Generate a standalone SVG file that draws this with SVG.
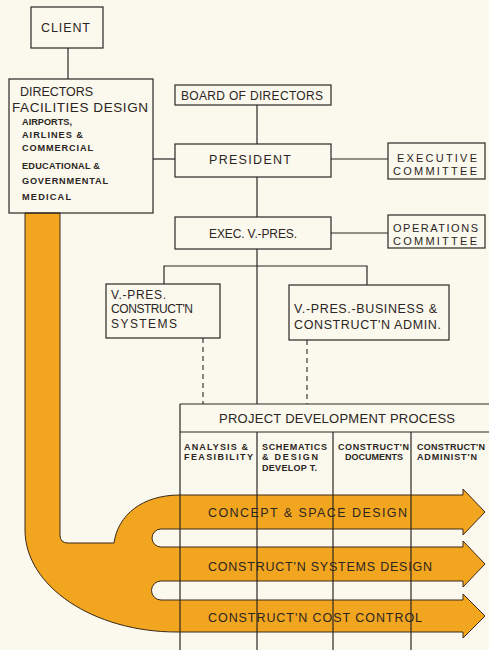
<svg xmlns="http://www.w3.org/2000/svg" width="489" height="650" viewBox="0 0 489 650">
<style>
.box{fill:none;stroke:#2b2623;stroke-width:1.2}
.ln{fill:none;stroke:#2b2623;stroke-width:1.2}
.dash{fill:none;stroke:#2b2623;stroke-width:1.1;stroke-dasharray:5 4}
.t{font-family:"Liberation Sans",Arial,sans-serif;font-size:12.5px;fill:#2b2623}
.c{font-family:"Liberation Sans",Arial,sans-serif;font-size:11px;fill:#2b2623}
.s{font-family:"Liberation Sans",Arial,sans-serif;font-size:9.2px;font-weight:bold;fill:#2b2623}
.h{font-family:"Liberation Sans",Arial,sans-serif;font-size:9px;font-weight:bold;fill:#2b2623}
.a{font-family:"Liberation Sans",Arial,sans-serif;font-size:12.5px;fill:#2b2623}
.flow{fill:#F2A51E;stroke:#3a2a1a;stroke-width:1}
</style>
<rect width="489" height="650" fill="#FBF8EE"/>

<g id="flow">
<path class="flow" d="M25 213 L25 530 C25 586 93 632 177 632 L463 632 L463 638 L485 616 L463 594 L463 600 L161 600 A9.5 9.5 0 0 1 161 581 L463 581 L463 587 L485 564 L463 541 L463 547 L161 547 A9 9 0 0 1 161 529 L463 529 L463 535 L485 512 L463 489 L463 495 L180 495 C142 495 118 515 114 543 L68 543 Q60 543 60 535 L60 213 Z"/>
<text class="a" x="208" y="517" textLength="199">CONCEPT &amp; SPACE DESIGN</text>
<text class="a" x="208" y="571" textLength="224">CONSTRUCT'N SYSTEMS DESIGN</text>
<text class="a" x="208" y="622" textLength="214">CONSTRUCT'N COST CONTROL</text>
</g>

<g id="connectors">
<line class="ln" x1="68" y1="48" x2="68" y2="79"/>
<line class="ln" x1="153" y1="159" x2="175" y2="159"/>
<line class="ln" x1="257" y1="105" x2="257" y2="144"/>
<line class="ln" x1="257" y1="177" x2="257" y2="217"/>
<line class="ln" x1="331" y1="159" x2="388" y2="159"/>
<line class="ln" x1="331" y1="233" x2="388" y2="233"/>
<line class="ln" x1="257" y1="249" x2="257" y2="404"/>
<polyline class="ln" points="164,284 164,266 367,266 367,285"/>
<line class="dash" x1="203" y1="338" x2="203" y2="404"/>
<line class="dash" x1="307" y1="340" x2="307" y2="404"/>
</g>

<g id="client">
<rect class="box" x="31" y="7" width="72" height="41"/>
<text class="t" x="41" y="32" textLength="49">CLIENT</text>
</g>

<g id="directors">
<rect class="box" x="9" y="79" width="144" height="134"/>
<text class="t" x="20" y="96" textLength="73">DIRECTORS</text>
<text class="t" x="12" y="112" textLength="136" style="font-size:13.5px">FACILITIES DESIGN</text>
<text class="s" x="22" y="125" textLength="50">AIRPORTS,</text>
<text class="s" x="22" y="137.5" textLength="61">AIRLINES &amp;</text>
<text class="s" x="22" y="151" textLength="71">COMMERCIAL</text>
<text class="s" x="22" y="169" textLength="78">EDUCATIONAL &amp;</text>
<text class="s" x="22" y="184" textLength="86">GOVERNMENTAL</text>
<text class="s" x="22" y="200" textLength="49">MEDICAL</text>
</g>

<g id="board">
<rect class="box" x="175" y="85" width="156" height="20"/>
<text class="t" x="181" y="99.5" textLength="142" style="font-size:12px">BOARD OF DIRECTORS</text>
</g>

<g id="president">
<rect class="box" x="175" y="144" width="156" height="33"/>
<text class="t" x="209" y="164" textLength="82">PRESIDENT</text>
</g>

<g id="exec-committee">
<rect class="box" x="388" y="143" width="97" height="36"/>
<text class="c" x="397" y="161.5" textLength="80">EXECUTIVE</text>
<text class="c" x="393" y="174.5" textLength="84">COMMITTEE</text>
</g>

<g id="exec-vp">
<rect class="box" x="175" y="217" width="156" height="32"/>
<text class="t" x="209" y="238" textLength="88" style="font-size:12px">EXEC. V.-PRES.</text>
</g>

<g id="ops-committee">
<rect class="box" x="388" y="215" width="97" height="33"/>
<text class="c" x="393" y="231.5" textLength="85">OPERATIONS</text>
<text class="c" x="393" y="245" textLength="84">COMMITTEE</text>
</g>

<g id="vp-systems">
<rect class="box" x="106" y="284" width="114" height="54"/>
<text class="t" x="111" y="299" textLength="55" style="font-size:12px">V.-PRES.</text>
<text class="t" x="111" y="313" textLength="82" style="font-size:12px">CONSTRUCT'N</text>
<text class="t" x="111" y="328" textLength="66" style="font-size:12px">SYSTEMS</text>
</g>

<g id="vp-business">
<rect class="box" x="289" y="285" width="160" height="55"/>
<text class="t" x="294" y="313" textLength="143">V.-PRES.-BUSINESS &amp;</text>
<text class="t" x="294" y="329" textLength="147">CONSTRUCT'N ADMIN.</text>
</g>

<g id="project">
<line class="ln" x1="180" y1="404" x2="489" y2="404"/>
<line class="ln" x1="180" y1="432" x2="489" y2="432"/>
<line class="ln" x1="180" y1="404" x2="180" y2="650"/>
<line class="ln" x1="257" y1="432" x2="257" y2="650"/>
<line class="ln" x1="333" y1="432" x2="333" y2="650"/>
<line class="ln" x1="411" y1="432" x2="411" y2="650"/>
<text class="t" x="219" y="423" textLength="236" style="font-size:13px">PROJECT DEVELOPMENT PROCESS</text>
<text class="h" x="184" y="449.5" textLength="64">ANALYSIS &amp;</text>
<text class="h" x="184" y="460" textLength="69">FEASIBILITY</text>
<text class="h" x="262" y="449.5" textLength="65">SCHEMATICS</text>
<text class="h" x="262" y="460" textLength="56">&amp; DESIGN</text>
<text class="h" x="262" y="470.5" textLength="55">DEVELOP T.</text>
<text class="h" x="338" y="449.5" textLength="71">CONSTRUCT'N</text>
<text class="h" x="345" y="460" textLength="58">DOCUMENTS</text>
<text class="h" x="417" y="449.5" textLength="68">CONSTRUCT'N</text>
<text class="h" x="417" y="460" textLength="60">ADMINIST'N</text>
</g>
</svg>
